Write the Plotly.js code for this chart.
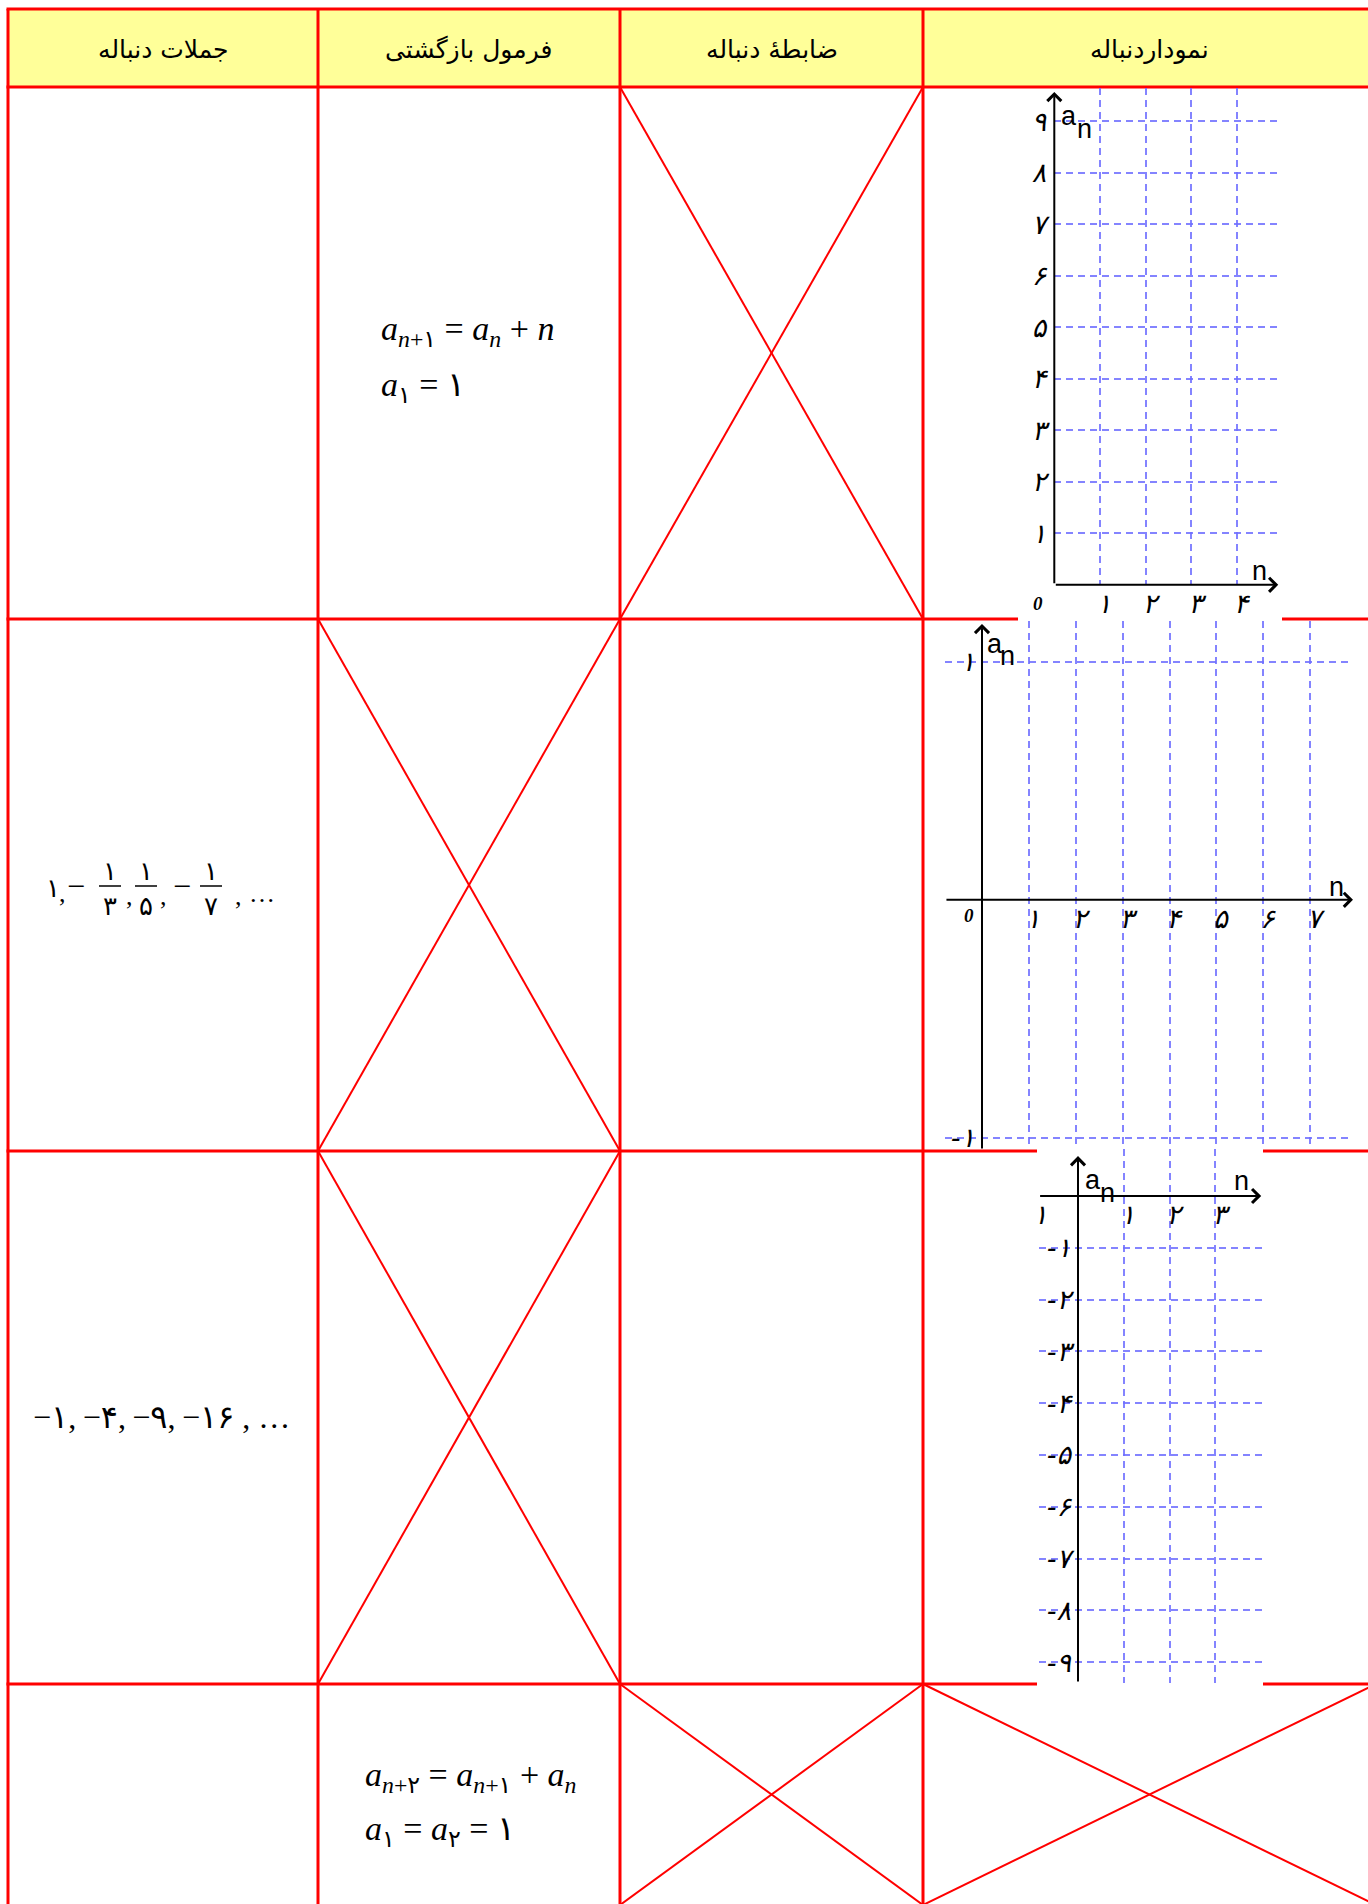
<!DOCTYPE html>
<html><head><meta charset="utf-8">
<script src="https://cdn.plot.ly/plotly-3.0.1.min.js"></script>
<style>html,body{margin:0;padding:0;background:#fff;overflow:hidden}#chart{width:1368px;height:1904px}</style>
</head><body><div id="chart"></div><script>
// ---------------- data ----------------
const headerLabels = ['جملات دنباله', 'فرمول بازگشتی', 'ضابطۀ دنباله', 'نموداردنباله'];
const recursiveRow1 = ['<i>a</i><sub><i>n</i>+۱</sub> = <i>a</i><sub><i>n</i></sub> + <i>n</i>', '<i>a</i><sub>۱</sub> = ۱'];
const recursiveRow4 = ['<i>a</i><sub><i>n</i>+۲</sub> = <i>a</i><sub><i>n</i>+۱</sub> + <i>a</i><sub><i>n</i></sub>', '<i>a</i><sub>۱</sub> = <i>a</i><sub>۲</sub> = ۱'];
const termsRow2Sign = ['', '−', '', '−'];
const termsRow2Num = ['۱', '۱', '۱', '۱'];
const termsRow2Den = ['', '۳', '۵', '۷'];
const termsRow3Sign = ['−', '−', '−', '−'];
const termsRow3Val = ['۱', '۴', '۹', '۱۶'];
const ellipsis = '…';
const crossedCells = [[1, 2], [2, 1], [3, 1], [4, 2], [4, 3]];

const g1XTicks = [1, 2, 3, 4];
const g1XText = ['۱', '۲', '۳', '۴'];
const g1YTicks = [1, 2, 3, 4, 5, 6, 7, 8, 9];
const g1YText = ['۱', '۲', '۳', '۴', '۵', '۶', '۷', '۸', '۹'];
const g2XTicks = [1, 2, 3, 4, 5, 6, 7];
const g2XText = ['۱', '۲', '۳', '۴', '۵', '۶', '۷'];
const g2YTicks = [-1, 1];
const g2YText = ['-۱', '۱'];
const g3XTicks = [1, 2, 3, 4];
const g3XText = ['۱', '۲', '۳', ''];
const g3YTicks = [-1, -2, -3, -4, -5, -6, -7, -8, -9];
const g3YText = ['-۱', '-۲', '-۳', '-۴', '-۵', '-۶', '-۷', '-۸', '-۹'];
const originLabel = '0';
const seqLabel = 'a', idxLabel = 'n';

// ---------------- layout geometry ----------------
const W = 1368, H = 1904;
const colX = [8, 318, 620, 923, 1376];
const rowY = [9, 87, 619, 1151, 1684, 1908];
const RED = '#ff0000';
const ltr = s => s.replace(/([۰-۹]+)/g, '$1\u200E');
const px = x => x / W, py = y => 1 - y / H;

const G = [
  {ox: 1054.3, ux: 45.7, oy: 584.8, uy: 51.5, xr: [0, 4.96], yr: [0, 9.64],
   yArrow: [0, 9.57], xArrow: [0, 4.9], aPos: [0.32, 9.10], nSub: [0.65, 8.85], nAxis: [4.5, 0.27], originShift: [-16, -19]},
  {ox: 982, ux: 46.9, oy: 899.8, uy: 238.2, xr: [-0.79, 7.91], yr: [-1.048, 1.172],
   yArrow: [-1.05, 1.158], xArrow: [-0.79, 7.91], aPos: [0.28, 1.074], nSub: [0.55, 1.023], nAxis: [7.55, 0.054], originShift: [-13, -16]},
  {ox: 1078, ux: 45.8, oy: 1196, uy: 51.8, xr: [-0.86, 4.02], yr: [-9.40, 0.907],
   yArrow: [-9.40, 0.77], xArrow: [-0.86, 4.0], aPos: [0.33, 0.31], nSub: [0.64, 0.06], nAxis: [3.57, 0.29], stray: [-0.82, -0.35]}
];
const xDomain = g => [(g.ox + g.xr[0] * g.ux) / W, (g.ox + g.xr[1] * g.ux) / W];
const yDomain = g => [1 - (g.oy - g.yr[0] * g.uy) / H, 1 - (g.oy - g.yr[1] * g.uy) / H];

const gridStyle = {showgrid: true, gridcolor: 'rgba(110,110,255,0.85)', gridwidth: 2, griddash: '7px,5px',
  zeroline: false, showline: false, ticks: '', fixedrange: true, tickmode: 'array', autorange: false};
const tickFont = {family: 'DejaVu Sans', size: 27, color: '#000', style: 'italic'};

const ticks = [
  [g1XTicks, g1XText, g1YTicks, g1YText],
  [g2XTicks, g2XText, g2YTicks, g2YText],
  [g3XTicks, g3XText, g3YTicks, g3YText]
];

const layout = {
  width: W, height: H, margin: {l: 0, r: 0, t: 0, b: 0, pad: 0},
  paper_bgcolor: '#fff', plot_bgcolor: 'rgba(0,0,0,0)', showlegend: false,
  shapes: [], annotations: []
};
const data = [];

G.forEach((g, i) => {
  const s = i === 0 ? '' : String(i + 1);
  const [xt, xtt, yt, ytt] = ticks[i];
  const xa = Object.assign({}, gridStyle, {domain: xDomain(g), range: g.xr, tickvals: xt, ticktext: xtt,
    tickfont: tickFont, ticklabelstandoff: 0, ticklabelshift: 4});
  const ya = Object.assign({}, gridStyle, {domain: yDomain(g), range: g.yr, tickvals: yt, ticktext: ytt,
    tickfont: tickFont, ticklabelstandoff: 7});
  if (i === 0) { xa.anchor = 'y'; ya.anchor = 'x'; }
  else {
    xa.anchor = 'free'; xa.position = 1 - g.oy / H;
    ya.anchor = 'free'; ya.position = g.ox / W;
  }
  layout['xaxis' + s] = xa;
  layout['yaxis' + s] = ya;
  data.push({type: 'scatter', mode: 'markers', x: [], y: [], xaxis: 'x' + s, yaxis: 'y' + s, hoverinfo: 'skip', showlegend: false});

  const ref = {xref: 'x' + s, yref: 'y' + s};
  const arrow = (x0, y0, x1, y1) => Object.assign({}, ref, {axref: 'x' + s, ayref: 'y' + s,
    x: x1, y: y1, ax: x0, ay: y0, text: '', showarrow: true, arrowhead: 4, arrowsize: 1.35,
    arrowwidth: 2, arrowcolor: '#000', standoff: 0, startstandoff: 0});
  layout.annotations.push(arrow(0, g.yArrow[0], 0, g.yArrow[1]));
  layout.annotations.push(arrow(g.xArrow[0], 0, g.xArrow[1], 0));
  const lbl = {font: {family: 'Liberation Sans', size: 27, color: '#000'}, showarrow: false};
  layout.annotations.push(Object.assign({}, ref, lbl, {x: g.aPos[0], y: g.aPos[1], text: seqLabel}));
  layout.annotations.push(Object.assign({}, ref, lbl, {x: g.nSub[0], y: g.nSub[1], text: idxLabel}));
  layout.annotations.push(Object.assign({}, ref, lbl, {x: g.nAxis[0], y: g.nAxis[1], text: idxLabel}));
  if (g.originShift) layout.annotations.push(Object.assign({}, ref, {x: 0, y: 0, xshift: g.originShift[0], yshift: g.originShift[1],
    text: originLabel, showarrow: false, font: {family: 'Liberation Serif', size: 19, color: '#000', style: 'italic', weight: 'bold'}}));
  if (g.stray) layout.annotations.push(Object.assign({}, ref, {x: g.stray[0], y: g.stray[1], text: g3XText[0],
    showarrow: false, font: tickFont}));
});

// ---------------- table ----------------
const S = layout.shapes;
S.push({type: 'rect', xref: 'paper', yref: 'paper', x0: px(colX[0]), x1: px(colX[4]), y0: py(rowY[0]), y1: py(rowY[1]),
  fillcolor: '#ffff99', line: {width: 0}, layer: 'below'});
crossedCells.forEach(([r, c]) => {
  const x0 = colX[c], x1 = colX[c + 1], y0 = rowY[r], y1 = rowY[r + 1] - (r === 4 ? 3 : 0);
  S.push({type: 'line', xref: 'paper', yref: 'paper', x0: px(x0), y0: py(y0), x1: px(x1), y1: py(y1), line: {color: RED, width: 2}, layer: 'below'});
  S.push({type: 'line', xref: 'paper', yref: 'paper', x0: px(x1), y0: py(y0), x1: px(x0), y1: py(y1), line: {color: RED, width: 2}, layer: 'below'});
});
rowY.forEach(y => S.push({type: 'line', xref: 'paper', yref: 'paper', x0: px(colX[0] - 1.5), x1: px(colX[4]), y0: py(y), y1: py(y), line: {color: RED, width: 3}, layer: 'below'}));
colX.forEach(x => S.push({type: 'line', xref: 'paper', yref: 'paper', x0: px(x), x1: px(x), y0: py(rowY[0]), y1: py(rowY[5]), line: {color: RED, width: 3}, layer: 'below'}));
// white backgrounds of the pasted graph pictures
[[1018, 89, 1282, 622], [1037, 1148, 1263, 1687]].forEach(([x0, y0, x1, y1]) =>
  S.push({type: 'rect', xref: 'paper', yref: 'paper', x0: px(x0), x1: px(x1), y0: py(y0), y1: py(y1), fillcolor: '#fff', line: {width: 0}, layer: 'below'}));

const A = layout.annotations;
const txt = (x, y, text, font, extra) => A.push(Object.assign({xref: 'paper', yref: 'paper', x: px(x), y: py(y), text: text,
  showarrow: false, font: font, xanchor: 'center', yanchor: 'middle'}, extra || {}));

const headFont = {family: 'DejaVu Sans', size: 25, color: '#000'};
headerLabels.forEach((h, i) => txt((colX[i] + colX[i + 1]) / 2, 49, h, headFont));

const mathFont = {family: 'Liberation Serif, DejaVu Sans', size: 34, color: '#000'};
txt(379, 331, ltr(recursiveRow1[0]), mathFont, {xanchor: 'left'});
txt(379, 387, ltr(recursiveRow1[1]), mathFont, {xanchor: 'left'});
txt(363, 1777, ltr(recursiveRow4[0]), mathFont, {xanchor: 'left'});
txt(363, 1831, ltr(recursiveRow4[1]), mathFont, {xanchor: 'left'});

// row 2: 1, -1/3, 1/5, -1/7, ...
const seqFont = {family: 'Liberation Serif, DejaVu Sans', size: 26, color: '#000'};
const termX = [53, 110, 146, 211], signX = [0, 76, 0, 182], commaX = [62, 129, 163, 238];
termsRow2Num.forEach((n, i) => {
  if (termsRow2Den[i]) {
    txt(termX[i], 872, n, seqFont);
    txt(termX[i], 906, termsRow2Den[i], seqFont);
    S.push({type: 'line', xref: 'paper', yref: 'paper', x0: px(termX[i] - 11), x1: px(termX[i] + 11), y0: py(886), y1: py(886), line: {color: '#000', width: 1.5}});
  } else {
    txt(termX[i], 888, n, seqFont);
  }
  if (termsRow2Sign[i]) txt(signX[i], 886, termsRow2Sign[i], Object.assign({}, seqFont, {size: 32}));
  txt(commaX[i], i === 0 ? 893 : 896, ',', seqFont);
});
txt(262, 893, ellipsis, seqFont);

// row 3
const row3 = termsRow3Val.map((v, i) => termsRow3Sign[i] + v).join(',\u2009') + ' , ' + ellipsis;
txt(161, 1417, ltr(row3), Object.assign({}, seqFont, {size: 32}));

Plotly.newPlot('chart', data, layout, {staticPlot: true});
</script></body></html>
